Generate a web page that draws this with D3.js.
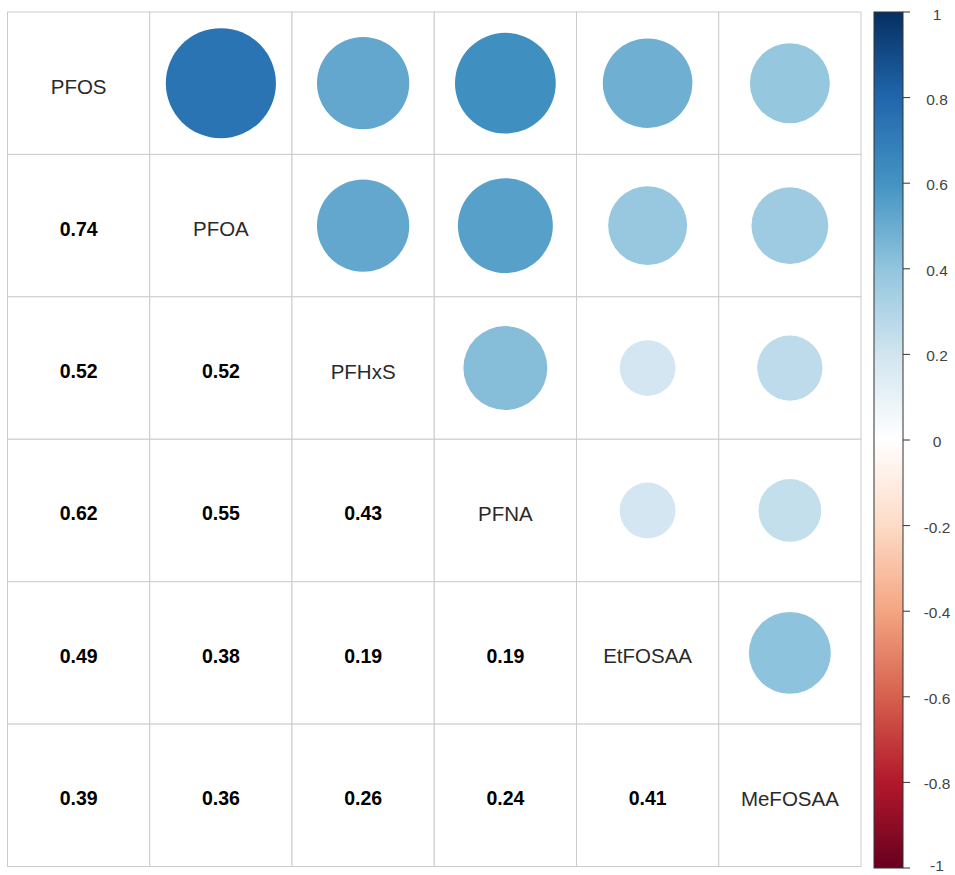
<!DOCTYPE html>
<html>
<head>
<meta charset="utf-8">
<script src="https://cdn.jsdelivr.net/npm/d3@7"></script>
<style>
  html, body { margin: 0; padding: 0; background: #fff; }
  svg { display: block; }
</style>
</head>
<body>
<svg id="chart" width="955" height="875"></svg>
<script>
// Variables shown along the diagonal
const variables = ["PFOS", "PFOA", "PFHxS", "PFNA", "EtFOSAA", "MeFOSAA"];

// Lower-triangle correlations, one row per variable (row i holds columns 0..i-1)
const corrRows = [
  [],
  [0.74],
  [0.52, 0.52],
  [0.62, 0.55, 0.43],
  [0.49, 0.38, 0.19, 0.19],
  [0.39, 0.36, 0.26, 0.24, 0.41]
];

// Colour legend ticks
const legendTicks = [1, 0.8, 0.6, 0.4, 0.2, 0, -0.2, -0.4, -0.6, -0.8, -1];

// RdBu diverging palette stops, from -1 to 1
const paletteStops = ["#67001F", "#B2182B", "#D6604D", "#F4A582", "#FDDBC7",
                      "#FFFFFF", "#D1E5F0", "#92C5DE", "#4393C3", "#2166AC", "#053061"];

(function () {
  const svg = d3.select("#chart");
  const n = variables.length;
  const fontFamily = "Liberation Sans, Arial, sans-serif";

  // Full symmetric matrix built from the lower triangle
  const matrix = variables.map((_, i) => variables.map((_, j) => {
    if (i === j) return 1;
    return i > j ? corrRows[i][j] : corrRows[j][i];
  }));

  const gridLeft = 7.5, gridTop = 12, gridRight = 861, gridBottom = 866.5;
  const x = d3.scaleBand().domain(d3.range(n)).range([gridLeft, gridRight]).paddingInner(0);
  const y = d3.scaleBand().domain(d3.range(n)).range([gridTop, gridBottom]).paddingInner(0);
  const color = d3.scaleLinear()
    .domain(d3.range(paletteStops.length).map(k => -1 + 2 * k / (paletteStops.length - 1)))
    .range(paletteStops)
    .interpolate(d3.interpolateRgb);
  // circle area proportional to |r|
  const radius = d3.scaleSqrt().domain([0, 1]).range([0, x.bandwidth() / 2 * 0.9]);

  const cells = [];
  for (let i = 0; i < n; i++) for (let j = 0; j < n; j++) cells.push({ i, j, v: matrix[i][j] });

  // cell grid
  svg.append("g").selectAll("rect").data(cells).join("rect")
    .attr("x", d => x(d.j)).attr("y", d => y(d.i))
    .attr("width", x.bandwidth()).attr("height", y.bandwidth())
    .attr("fill", "#fff").attr("stroke", "#cccccc").attr("stroke-width", 1);

  // upper triangle: circles
  svg.append("g").selectAll("circle")
    .data(cells.filter(d => d.j > d.i)).join("circle")
    .attr("cx", d => x(d.j) + x.bandwidth() / 2)
    .attr("cy", d => y(d.i) + y.bandwidth() / 2)
    .attr("r", d => radius(Math.abs(d.v)))
    .attr("fill", d => color(d.v));

  // lower triangle: coefficients
  svg.append("g").selectAll("text")
    .data(cells.filter(d => d.j < d.i)).join("text")
    .attr("x", d => x(d.j) + x.bandwidth() / 2)
    .attr("y", d => y(d.i) + y.bandwidth() / 2 + 3)
    .attr("text-anchor", "middle").attr("dominant-baseline", "central")
    .attr("font-family", fontFamily)
    .attr("font-size", 19.5).attr("font-weight", "bold").attr("fill", "#000")
    .text(d => d3.format(".2f")(d.v));

  // diagonal: variable names
  svg.append("g").selectAll("text")
    .data(variables).join("text")
    .attr("x", (d, i) => x(i) + x.bandwidth() / 2)
    .attr("y", (d, i) => y(i) + y.bandwidth() / 2 + 3)
    .attr("text-anchor", "middle").attr("dominant-baseline", "central")
    .attr("font-family", fontFamily)
    .attr("font-size", 20.5).attr("fill", "#2a2a2a")
    .text(d => d);

  // colour legend
  const barX = 874, barW = 29, barTop = 12, barBottom = 868;
  const ly = d3.scaleLinear().domain([1, -1]).range([barTop, barBottom]);
  const grad = svg.append("defs").append("linearGradient").attr("id", "legendGrad")
    .attr("x1", 0).attr("y1", 0).attr("x2", 0).attr("y2", 1);
  grad.selectAll("stop").data(d3.range(0, 101)).join("stop")
    .attr("offset", d => d + "%")
    .attr("stop-color", d => color(1 - 2 * d / 100));
  svg.append("rect")
    .attr("x", barX).attr("y", barTop).attr("width", barW).attr("height", barBottom - barTop)
    .attr("fill", "url(#legendGrad)").attr("stroke", "#333").attr("stroke-width", 1);

  const legend = svg.append("g");
  legend.selectAll("line").data(legendTicks).join("line")
    .attr("x1", barX + barW).attr("x2", barX + barW + 7)
    .attr("y1", d => ly(d)).attr("y2", d => ly(d))
    .attr("stroke", "#333").attr("stroke-width", 1);
  // keep the end labels inside the drawing area
  legend.selectAll("text").data(legendTicks).join("text")
    .attr("x", 937).attr("y", d => Math.min(Math.max(ly(d) + 1.5, 14), 865))
    .attr("text-anchor", "middle").attr("dominant-baseline", "central")
    .attr("font-family", fontFamily)
    .attr("font-size", 15.5).attr("fill", "#444")
    .text(d => String(d));
})();
</script>
</body>
</html>
